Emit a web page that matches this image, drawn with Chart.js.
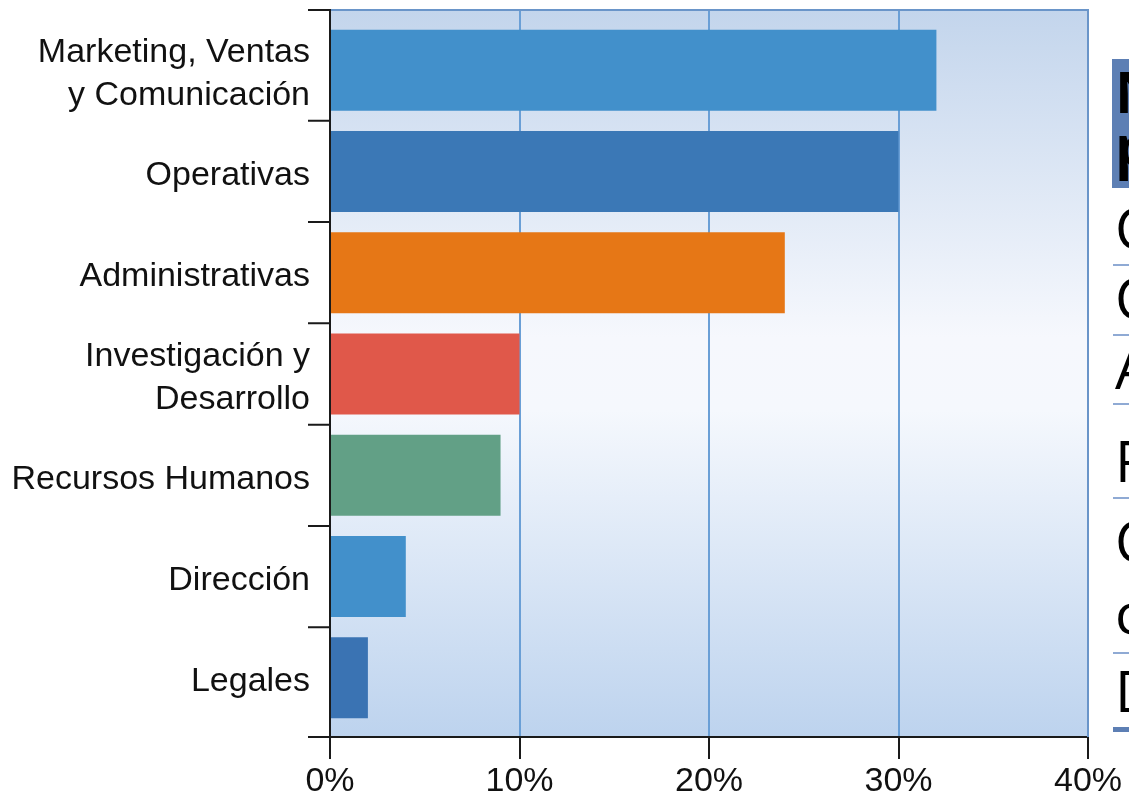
<!DOCTYPE html>
<html>
<head>
<meta charset="utf-8">
<title>Distribución por área</title>
<script src="https://cdn.jsdelivr.net/npm/chart.js@4.4.1/dist/chart.umd.min.js"></script>
<style>
  html, body { margin: 0; padding: 0; background: #ffffff; overflow: hidden; }
  #wrap { position: relative; width: 1129px; height: 794px; overflow: hidden; }
  #chart { position: absolute; left: 0; top: 0; }
  .side { position: absolute; left: 1115px; font-family: "Open Sans", "Noto Sans", sans-serif;
          font-size: 57px; line-height: 1; color: #000; white-space: nowrap; }
  .side.head { font-weight: 700; }
  .sideBox { position: absolute; left: 1112px; top: 59px; width: 40px; height: 129px; background: #5d7fb4; }
  .rule { position: absolute; left: 1113px; width: 30px; height: 2px; background: #8faad4; }
  .rule.thick { height: 5px; background: #5d7fb4; }
</style>
</head>
<body>
<div id="wrap">
  <canvas id="chart" width="1129" height="794"></canvas>
  <div id="side"></div>
</div>
<script>
// Categories (multi-line labels are arrays), shares in percent, colours per bar
const categories = [
  ['Marketing, Ventas', 'y Comunicación'],
  'Operativas',
  'Administrativas',
  ['Investigación y', 'Desarrollo'],
  'Recursos Humanos',
  'Dirección',
  'Legales'
];
const shares = [32, 30, 24, 10, 9, 4, 2];
const barColors = ['#4290cb', '#3b78b6', '#e67716', '#e0584a', '#62a086', '#4290cb', '#3a73b3'];
const tickValues = [0, 10, 20, 30, 40];

// Side table text (clipped at the page edge)
const sideHeader = ['N', 'p'];
const sideRows = ['C', 'C', 'A', 'F', 'C', 'c', 'D'];

// ---- side table ----
(function buildSide() {
  const side = document.getElementById('side');
  const box = document.createElement('div');
  box.className = 'sideBox';
  side.appendChild(box);
  const headTops = [63, 117];
  sideHeader.forEach((t, i) => {
    const d = document.createElement('div');
    d.className = 'side head';
    d.style.top = headTops[i] + 'px';
    d.textContent = t;
    side.appendChild(d);
  });
  const rowTops = [199, 269, 339, 432, 512, 584, 662];
  sideRows.forEach((t, i) => {
    const d = document.createElement('div');
    d.className = 'side';
    d.style.top = rowTops[i] + 'px';
    d.textContent = t;
    side.appendChild(d);
  });
  [265, 335, 404, 498, 653].forEach(y => {
    const r = document.createElement('div');
    r.className = 'rule';
    r.style.top = (y - 1) + 'px';
    side.appendChild(r);
  });
  const t = document.createElement('div');
  t.className = 'rule thick';
  t.style.top = '727px';
  side.appendChild(t);
})();

// ---- frame plugin: background, inset category band, borders, axis ticks ----
const frame = {
  id: 'frame',
  afterLayout(chart) {
    // categories sit slightly inside the plot frame
    const y = chart.scales.y, a = chart.chartArea;
    y.top = a.top + 9.5;
    y.bottom = a.bottom - 8.5;
    y.configure();
  },
  beforeDraw(chart) {
    const { ctx, chartArea: a } = chart;
    const g = ctx.createLinearGradient(0, a.top, 0, a.bottom);
    g.addColorStop(0, '#c3d5ec');
    g.addColorStop(0.45, '#f6f8fd');
    g.addColorStop(0.55, '#f5f8fd');
    g.addColorStop(1, '#bdd3ee');
    ctx.save();
    ctx.fillStyle = g;
    ctx.fillRect(a.left, a.top, a.right - a.left, a.bottom - a.top);
    ctx.restore();
  },
  afterDatasetsDraw(chart) {
    const { ctx, chartArea: a } = chart;
    const y = chart.scales.y;
    ctx.save();
    // top and right frame
    ctx.strokeStyle = '#6a95c9';
    ctx.lineWidth = 2;
    ctx.beginPath();
    ctx.moveTo(a.left, a.top);
    ctx.lineTo(a.right, a.top);
    ctx.lineTo(a.right, a.bottom);
    ctx.stroke();
    // left axis line
    ctx.strokeStyle = '#1a1a1a';
    ctx.beginPath();
    ctx.moveTo(a.left, a.top - 1);
    ctx.lineTo(a.left, a.bottom + 1);
    ctx.stroke();
    // category separators as tick marks
    const edges = [a.top];
    for (let i = 1; i < categories.length; i++) {
      edges.push((y.getPixelForValue(i - 1) + y.getPixelForValue(i)) / 2);
    }
    edges.push(a.bottom);
    ctx.beginPath();
    edges.forEach(e => {
      ctx.moveTo(a.left - 22, e);
      ctx.lineTo(a.left, e);
    });
    ctx.stroke();
    ctx.restore();
  }
};

new Chart(document.getElementById('chart'), {
  type: 'bar',
  data: {
    labels: categories,
    datasets: [{
      data: shares,
      backgroundColor: barColors,
      borderWidth: 0
    }]
  },
  options: {
    responsive: false,
    animation: false,
    indexAxis: 'y',
    layout: { padding: { top: 10, right: 41, left: 0, bottom: 0 } },
    plugins: { legend: { display: false }, tooltip: { enabled: false } },
    datasets: { bar: { categoryPercentage: 1, barPercentage: 0.8 } },
    scales: {
      x: {
        min: 0,
        max: 40,
        afterBuildTicks(s) { s.ticks = tickValues.map(v => ({ value: v })); },
        ticks: {
          color: '#111',
          font: { family: 'Liberation Sans', size: 34 },
          padding: 2,
          maxRotation: 0,
          autoSkip: false,
          callback: v => v + '%'
        },
        grid: { color: '#6a9fd6', lineWidth: 2, tickColor: '#1a1a1a', tickLength: 22 },
        border: { color: '#1a1a1a', width: 2 },
        afterFit(s) { s.height = 57; s.paddingLeft = 0; s.paddingRight = 0; }
      },
      y: {
        ticks: {
          color: '#111',
          font: { family: 'Liberation Sans', size: 34, lineHeight: 1.25 },
          padding: 0,
          labelOffset: 4,
          autoSkip: false
        },
        grid: { display: false, tickLength: 20 },
        border: { display: false },
        afterFit(s) { s.width = 330; s.paddingTop = 0; s.paddingBottom = 0; }
      }
    }
  },
  plugins: [frame]
});
</script>
</body>
</html>
